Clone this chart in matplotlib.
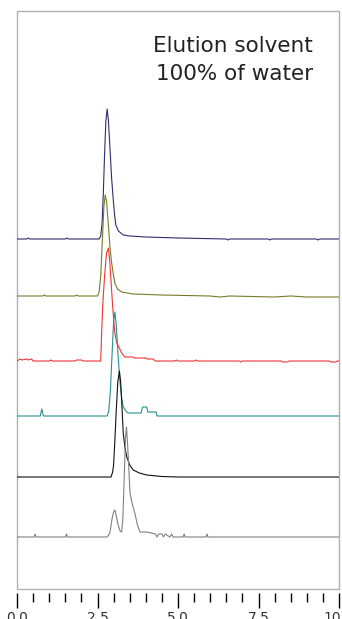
import numpy as np
import matplotlib.pyplot as plt
from matplotlib.patches import Rectangle

# Chromatogram traces, keypoints: retention time (min), signal (a.u.)
t_navy = [0, 0.3, 0.35, 0.4, 1.5, 1.55, 1.6, 2.55, 2.60, 2.64, 2.68, 2.72, 2.76, 2.80, 2.84, 2.89,
          2.94, 2.99, 3.03, 3.07, 3.15, 3.3, 3.5, 4.0, 5.0,
          6.5, 6.55, 6.6, 7.8, 7.85, 7.9, 9.3, 9.35, 9.4, 10]
s_navy = [0, 0, 1, 0, 0, 1, 0, 0, 3, 15, 45, 85, 118, 130, 118, 89,
          60, 39, 24, 14, 8, 4, 3, 2, 1,
          0, -1, 0, 0, -1, 0, 0, -1, 0, 0]

t_olive = [0, 0.8, 0.85, 0.9, 1.8, 1.85, 1.9, 2.5, 2.55, 2.60, 2.65, 2.70, 2.74, 2.78, 2.84, 2.89,
           2.94, 3.0, 3.04, 3.12, 3.25, 3.6, 4.5, 6.0, 6.3, 6.6, 8.0, 8.5, 9.0, 10]
s_olive = [0, 0, 1, 0, 0, 1, 0, 0, 4, 20, 55, 90, 101, 95, 70, 48,
           33, 20, 13, 7, 4, 2, 1, 0, -1, 0, -1, 0, -1, -1]

t_red = [0, 0.1, 0.15, 0.3, 0.35, 0.45, 0.5, 1.0, 1.05, 1.1, 1.8, 1.85, 2.0, 2.05, 2.6, 2.63, 2.67,
         2.72, 2.78, 2.84, 2.88, 2.92, 2.97, 3.01, 3.04, 3.1, 3.15, 3.25, 3.35, 3.6, 3.65, 4.0, 4.05,
         4.22, 4.3, 4.9, 4.95, 5.0, 5.5, 5.55, 5.6, 6.9, 6.95, 7.0, 8.2, 8.25, 8.4, 8.45, 9.7, 9.75,
         9.9, 9.95, 10]
s_red = [0, 2, 1, 2, 1, 2, 0, 0, 1, 0, 0, 1, 1, 0, 0, 30, 60,
         85, 108, 113, 100, 80, 55, 38, 28, 18, 15, 8, 4, 4, 3, 3, 2,
         2, 0, 0, 1, 0, 0, 1, 0, 0, -1, 0, 0, -1, -1, 0, 0, -1,
         -1, 0, 0]

t_teal = [0, 0.72, 0.77, 0.82, 2.8, 2.85, 2.9, 2.95, 3.0, 3.04, 3.08, 3.13, 3.2, 3.25, 3.3, 3.38,
          3.45, 3.85, 3.9, 4.03, 4.06, 4.32, 4.35, 10]
s_teal = [0, 0, 7, 0, 0, 5, 25, 60, 95, 104, 92, 65, 33, 18, 9, 5,
          3, 3, 9, 9, 4, 4, 0, 0]

t_black = [0, 2.92, 2.97, 3.0, 3.04, 3.08, 3.13, 3.18, 3.22, 3.26, 3.3, 3.35, 3.41, 3.5, 3.61, 3.8,
           4.03, 4.5, 5.0, 10]
s_black = [0, 0, 5, 12, 37, 65, 95, 106, 95, 70, 44, 30, 20, 12, 7, 4,
           2, 0.5, 0, 0]

t_gray = [0, 0.53, 0.56, 0.59, 1.51, 1.54, 1.57, 2.8, 2.85, 2.89, 2.95, 3.0, 3.04, 3.08, 3.14, 3.2,
          3.25, 3.29, 3.33, 3.37, 3.40, 3.44, 3.51, 3.58, 3.66, 3.74, 3.82, 4.03, 4.3, 4.35, 4.4, 4.5,
          4.55, 4.6, 4.75, 4.8, 4.85, 5.16, 5.19, 5.22, 5.87, 5.9, 5.93, 10]
s_gray = [0, 0, 3, 0, 0, 3, 0, 0, 2, 5, 18, 25, 27, 22, 12, 6,
          5, 20, 60, 100, 110, 90, 44, 33, 24, 12, 5, 5, 3, 0, 3, 3,
          0, 3, 0, 3, 0, 0, 3, 0, 0, 3, 0, 0]

traces = [
    (t_navy, s_navy, '#2e2e6e', 350),
    (t_olive, s_olive, '#7a7a2a', 293),
    (t_red, s_red, '#ee3535', 228),
    (t_teal, s_teal, '#2a8f8f', 173),
    (t_black, s_black, '#111111', 112),
    (t_gray, s_gray, '#808080', 52),
]

fig = plt.figure(figsize=(3.42, 6.19), dpi=100)
ax = fig.add_axes([17 / 342, 1 - 589 / 619, 322 / 342, 578 / 619])

for t, s, c, off in traces:
    ax.plot(t, np.array(s) + off, color=c, lw=0.8)

ax.set_xlim(0, 10)
ax.set_ylim(0, 578)

# light gray frame, black ticks sitting a little below it
ax.add_patch(Rectangle((0, 0), 1, 1, transform=ax.transAxes, fill=False,
                       edgecolor='#b0b0b0', lw=1.0, clip_on=False))
for side in ['top', 'left', 'right']:
    ax.spines[side].set_visible(False)
ax.spines['bottom'].set_position(('outward', 3))
ax.spines['bottom'].set_visible(False)

ax.set_yticks([])
ax.set_xticks([0, 2.5, 5, 7.5, 10])
ax.set_xticklabels(['0.0', '2.5', '5.0', '7.5', '10.0'])
ax.set_xticks(np.arange(0, 10.01, 0.5), minor=True)
ax.tick_params(axis='x', which='major', direction='out', length=11, width=1.0,
               color='black', labelsize=10, pad=2, labelcolor='#333333')
ax.tick_params(axis='x', which='minor', direction='out', length=6.5, width=1.0, color='black')

ax.text(313, 619 - 51.7, 'Elution solvent', transform=None,
        ha='right', va='baseline', fontsize=15.5, color='#222222')
ax.text(313, 619 - 80, '100% of water', transform=None,
        ha='right', va='baseline', fontsize=15.5, color='#222222')

fig.savefig('out.png', dpi=100)
